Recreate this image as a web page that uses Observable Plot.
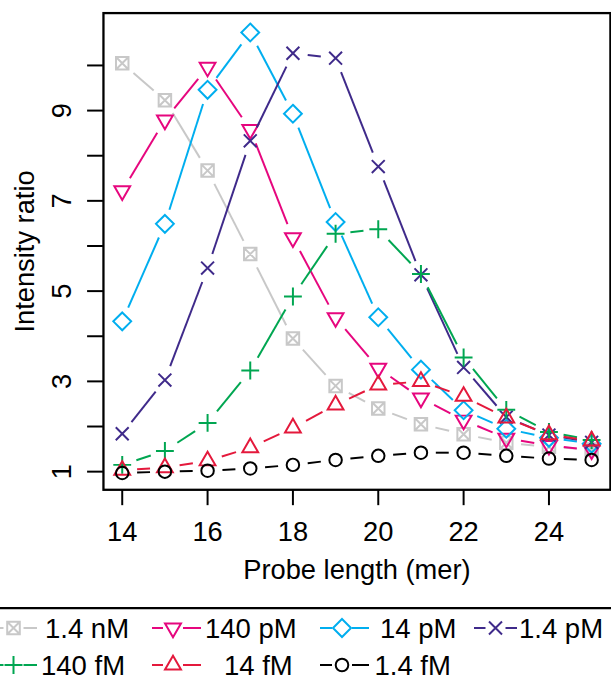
<!DOCTYPE html>
<html><head><meta charset="utf-8">
<script src="https://cdn.jsdelivr.net/npm/d3@7"></script>
<script src="https://cdn.jsdelivr.net/npm/@observablehq/plot@0.6"></script>
<style>
html,body{margin:0;padding:0;overflow:hidden;background:#fff;}
#chart svg{display:block;}
</style></head><body><div id="chart"></div>
<script>
// ---------- data ----------
const probeLength = [14, 15, 16, 17, 18, 19, 20, 21, 22, 23, 24, 25];
const seriesNames = ["1.4 nM", "140 pM", "14 pM", "1.4 pM", "140 fM", "14 fM", "1.4 fM"];
const ratio_1_4nM  = [10.05, 9.23, 7.67, 5.82, 3.95, 2.90, 2.40, 2.05, 1.83, 1.64, 1.55, 1.49];
const ratio_140pM  = [7.22, 8.79, 9.96, 8.58, 6.18, 4.41, 3.29, 2.63, 2.14, 1.74, 1.58, 1.48];
const ratio_14pM   = [4.33, 6.49, 9.46, 10.73, 8.93, 6.53, 4.42, 3.26, 2.36, 1.95, 1.75, 1.62];
const ratio_1_4pM  = [1.84, 3.03, 5.51, 8.33, 10.27, 10.16, 7.76, 5.36, 3.31, 2.21, 1.81, 1.65];
const ratio_140fM  = [1.15, 1.46, 2.08, 3.24, 4.88, 6.27, 6.37, 5.38, 3.53, 2.37, 1.88, 1.70];
const ratio_14fM   = [1.03, 1.09, 1.24, 1.53, 1.97, 2.48, 2.92, 3.00, 2.67, 2.19, 1.82, 1.68];
const ratio_1_4fM  = [0.97, 1.00, 1.02, 1.07, 1.15, 1.26, 1.35, 1.42, 1.42, 1.35, 1.29, 1.26];
const xTicks = [14, 16, 18, 20, 22, 24];
const yTicks = [1, 2, 3, 4, 5, 6, 7, 8, 9, 10];
const yTickLabels = [1, 3, 5, 7, 9];
const xLabel = "Probe length (mer)";
const yLabel = "Intensity ratio";

// ---------- styles ----------
const colors = ["#c8c8c8", "#e6067e", "#00aeef", "#3f2a8a", "#00a651", "#e4193c", "#000000"];
const symSquareX = {draw(c){const h=6.3;c.moveTo(-h,-h);c.lineTo(h,-h);c.lineTo(h,h);c.lineTo(-h,h);c.closePath();c.moveTo(-h,-h);c.lineTo(h,h);c.moveTo(h,-h);c.lineTo(-h,h);}};
const symTriDown = {draw(c){const r=9.2;c.moveTo(0,r);c.lineTo(r*0.866,-r/2);c.lineTo(-r*0.866,-r/2);c.closePath();}};
const symDiamond = {draw(c){const h=9;c.moveTo(0,-h);c.lineTo(h,0);c.lineTo(0,h);c.lineTo(-h,0);c.closePath();}};
const symTimes = {draw(c){const h=6.5;c.moveTo(-h,-h);c.lineTo(h,h);c.moveTo(h,-h);c.lineTo(-h,h);}};
const symPlus = {draw(c){const h=9;c.moveTo(-h,0);c.lineTo(h,0);c.moveTo(0,-h);c.lineTo(0,h);}};
const symTriUp = {draw(c){const r=9.2;c.moveTo(0,-r);c.lineTo(r*0.866,r/2);c.lineTo(-r*0.866,r/2);c.closePath();}};
const symCircle = {draw(c){const r=6.3;c.moveTo(r,0);c.arc(0,0,r,0,2*Math.PI);}};
const symbols = [symSquareX, symTriDown, symDiamond, symTimes, symPlus, symTriUp, symCircle];
const seriesValues = [ratio_1_4nM, ratio_140pM, ratio_14pM, ratio_1_4pM, ratio_140fM, ratio_14fM, ratio_1_4fM];

const FONT = "'Liberation Sans', Arial, Helvetica, sans-serif";
const FS = 27.5;
const W = 616, H = 612;
const mL = 103.8, mR = 1.1, mT = 12.7, mB = H - 493.3;
const xDomain = [13.56, 25.44], yDomain = [0.598, 11.16];
const kx = (W - mL - mR) / (xDomain[1] - xDomain[0]);
const ky = (H - mT - mB) / (yDomain[1] - yDomain[0]);
const GAP = 15;

function segments(ys) {
  const out = [];
  for (let i = 0; i < probeLength.length - 1; i++) {
    const x1 = probeLength[i], y1 = ys[i], x2 = probeLength[i + 1], y2 = ys[i + 1];
    const L = Math.hypot((x2 - x1) * kx, (y2 - y1) * ky);
    if (L <= 2 * GAP) continue;
    const f = GAP / L;
    out.push({x1: x1 + (x2 - x1) * f, y1: y1 + (y2 - y1) * f, x2: x2 - (x2 - x1) * f, y2: y2 - (y2 - y1) * f});
  }
  return out;
}

const marks = [];
seriesValues.forEach((ys, s) => {
  marks.push(Plot.link(segments(ys), {x1: "x1", y1: "y1", x2: "x2", y2: "y2", stroke: colors[s], strokeWidth: 2}));
  marks.push(Plot.dot(probeLength.map((x, i) => ({x, y: ys[i]})), {x: "x", y: "y", symbol: symbols[s], stroke: colors[s], fill: "none", strokeWidth: 2}));
});
marks.push(
  Plot.frame({stroke: "black", strokeWidth: 2.3}),
  Plot.axisX({ticks: xTicks, anchor: "bottom", tickSize: 16, strokeWidth: 2, tickFormat: () => "", label: null}),
  Plot.axisY({ticks: yTicks, anchor: "left", tickSize: 16, strokeWidth: 2, tickFormat: () => "", label: null}),
  Plot.text(xTicks, {x: d => d, text: d => String(d), frameAnchor: "bottom", dy: 51.7, lineAnchor: "bottom", fontSize: FS}),
  Plot.text(yTickLabels, {y: d => d, text: d => String(d), frameAnchor: "left", dx: -33.1, rotate: -90, lineAnchor: "bottom", textAnchor: "middle", fontSize: FS}),
  Plot.text([xLabel], {text: d => d, frameAnchor: "bottom", dy: 90.2, lineAnchor: "bottom", fontSize: FS}),
  Plot.text([yLabel], {text: d => d, frameAnchor: "left", dx: -70.3, rotate: -90, lineAnchor: "bottom", textAnchor: "middle", fontSize: FS})
);

const chart = Plot.plot({
  width: W, height: H,
  marginLeft: mL, marginRight: mR, marginTop: mT, marginBottom: mB,
  x: {domain: xDomain, label: null},
  y: {domain: yDomain, label: null},
  style: {fontFamily: FONT, fontSize: FS + "px", background: "white", color: "black"},
  marks
});
document.getElementById("chart").appendChild(chart);

// ---------- legend ----------
const legendCols = [13.5, 173, 342, 495.5];
const legendSegStart = [-9, 152, 320, 474];
const legendSegEnd = [37, 201, 369, 517];
const legendRows = [21, 58];
const legendTextX = [[45, 205, 380, 519], [41, 224, 374.5]];
const lsvg = d3.select("#chart").append("svg").attr("width", 611).attr("height", 73)
  .style("display", "block").style("font-family", FONT).style("font-size", FS + "px");
lsvg.append("line").attr("x1", -5).attr("x2", 620).attr("y1", 1.2).attr("y2", 1.2)
  .attr("stroke", "black").attr("stroke-width", 2.3);
seriesNames.forEach((name, i) => {
  const row = i < 4 ? 0 : 1, col = i < 4 ? i : i - 4;
  const cx = legendCols[col], cy = legendRows[row];
  const g = lsvg.append("g");
  g.append("line").attr("x1", legendSegStart[col]).attr("x2", cx - 10).attr("y1", cy).attr("y2", cy).attr("stroke", colors[i]).attr("stroke-width", 2);
  g.append("line").attr("x1", cx + 10).attr("x2", legendSegEnd[col]).attr("y1", cy).attr("y2", cy).attr("stroke", colors[i]).attr("stroke-width", 2);
  g.append("path").attr("d", d3.symbol().type(symbols[i])()).attr("transform", `translate(${cx},${cy})`)
    .attr("fill", "none").attr("stroke", colors[i]).attr("stroke-width", 2);
  g.append("text").attr("x", legendTextX[row][col]).attr("y", cy + 10).attr("fill", "black").text(name);
});
</script>
</body></html>
